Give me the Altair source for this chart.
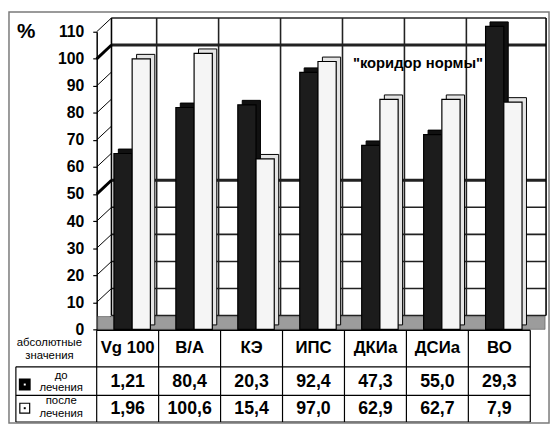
import altair as alt
import pandas as pd

# ---------------- data ----------------
categories = ["Vg 100", "В/А", "КЭ", "ИПС", "ДКИа", "ДСИа", "ВО"]
pct_before = [65, 82, 83, 95, 68, 72, 112]
pct_after = [100, 102, 63, 99, 85, 85, 84]
abs_before = ["1,21", "80,4", "20,3", "92,4", "47,3", "55,0", "29,3"]
abs_after = ["1,96", "100,6", "15,4", "97,0", "62,9", "62,7", "7,9"]
y_ticks = list(range(0, 111, 10))
wall_levels = [0, 10, 20, 30, 40, 50, 100, 110]   # lines drawn on the back wall
corridor = [50, 100]                               # "коридор нормы" bounds

# ---------------- layout / style constants ----------------
W, H = 440, 302
DX, DY = 15, -14          # depth of the back wall
D3 = 4.5                  # depth of each bar
BW = 18.5                 # bar width
OFF_BEFORE, OFF_AFTER = -4.7, 13.8
FONT = "Liberation Sans"

df = pd.DataFrame({
    "cat": categories,
    "before": pct_before,
    "after": pct_after,
    "abs_before": abs_before,
    "abs_after": abs_after,
})
one = pd.DataFrame({"k": [0]})
ticks_df = pd.DataFrame({"v": y_ticks})
wall_df = pd.DataFrame({"c": wall_levels})
corr_df = pd.DataFrame({"c": corridor})

xs = alt.Scale(domain=categories, paddingInner=0, paddingOuter=0)
ys = alt.Scale(domain=[0, 110], nice=False, zero=True)
is_corr = "datum.c == 50 || datum.c == 100"


def X(field="cat:N", **kw):
    return alt.X(field, sort=categories, scale=xs, axis=None, **kw)


def Yf(field):
    return alt.Y(field, scale=ys, axis=None)


def hline(y, x1, x2, width=1.2):
    return alt.Chart(one).mark_rule(color="black", strokeWidth=width).encode(
        y=alt.value(y), x=alt.value(x1), x2=alt.value(x2))


def vline(x, y1, y2, width=1.2):
    return alt.Chart(one).mark_rule(color="black", strokeWidth=width).encode(
        x=alt.value(x), y=alt.value(y1), y2=alt.value(y2))


def label(text, x, y, size=11.5):
    return alt.Chart(one).mark_text(text=text, font=FONT, fontSize=size, color="black",
                                    baseline="middle").encode(x=alt.value(x), y=alt.value(y))


# left wall diagonals + the y axis
diagonals = alt.Chart(ticks_df).mark_rule(color="black", strokeWidth=1, y2Offset=DY).encode(
    x=alt.value(0), x2=alt.value(DX),
    y=alt.Y("v:Q", scale=ys, axis=alt.Axis(
        values=y_ticks, tickSize=4, tickColor="black", tickWidth=1.2,
        domainColor="black", domainWidth=1.5, grid=False,
        labelFont=FONT, labelFontSize=16, labelFontWeight="bold", labelColor="black",
        labelPadding=9,
        title="%", titleAngle=0, titleX=-72, titleY=0, titleAlign="center",
        titleBaseline="middle", titleFont=FONT, titleFontSize=21,
        titleFontWeight="bold", titleColor="black")),
    y2="v:Q")

# back wall horizontal lines (thin grid + thick corridor bounds + top edge)
wall_back = alt.Chart(wall_df).mark_rule(color="#222222", yOffset=DY).encode(
    y=Yf("c:Q"), x=alt.value(DX), x2=alt.value(W + 16),
    strokeWidth=alt.condition(is_corr, alt.value(3), alt.value(1.6)))

# back wall vertical separators between the category groups
wall_verticals = alt.Chart(df).transform_filter(
    alt.datum.cat != categories[0]
).mark_rule(color="#222222", strokeWidth=1.6, xOffset=-2).encode(
    x=X(bandPosition=0), y=alt.value(DY), y2=alt.value(H + DY))

wall_left = vline(DX, DY, H + DY, 1.6)
wall_right = vline(W + 16, DY, H + DY, 1.6)

corr_diag = alt.Chart(corr_df).mark_rule(color="black", strokeWidth=3, y2Offset=DY).encode(
    x=alt.value(0), x2=alt.value(DX), y=Yf("c:Q"), y2="c:Q")

note = alt.Chart(one).mark_text(text='"коридор нормы"', font=FONT, fontSize=15,
                                fontWeight="bold", color="black").encode(
    x=alt.value(326), y=alt.value(32))

# floor
floor = alt.Chart(one).mark_rect(fill="#9c9c9c", stroke="#555", strokeWidth=0.6).encode(
    x=alt.value(1), x2=alt.value(W + 15), y=alt.value(H), y2=alt.value(H + DY + 1))

# bars (front face + depth)
before_depth = alt.Chart(df).mark_bar(width=BW, xOffset=OFF_BEFORE + D3, yOffset=-D3, y2Offset=-D3,
                                      fill="#111", stroke="black", strokeWidth=1).encode(
    x=X(), y=Yf("before:Q"))
before_front = alt.Chart(df).mark_bar(width=BW, xOffset=OFF_BEFORE,
                                      fill="#1c1c1c", stroke="black", strokeWidth=1.2).encode(
    x=X(), y=Yf("before:Q"))
after_depth = alt.Chart(df).mark_bar(width=BW, xOffset=OFF_AFTER + D3, yOffset=-D3, y2Offset=-D3,
                                     fill="#e4e4e4", stroke="black", strokeWidth=1).encode(
    x=X(), y=Yf("after:Q"))
after_front = alt.Chart(df).mark_bar(width=BW, xOffset=OFF_AFTER,
                                     fill="#f5f5f5", stroke="black", strokeWidth=1.2).encode(
    x=X(), y=Yf("after:Q"))

# table
T0, T1, T2, T3 = H + 1, 340, 369, 396
table_lines = [
    hline(T0, 0, W, 1.6),
    hline(T1, -82, W),
    hline(T2, -82, W),
    hline(T3, -82, W),
    vline(W, T0, T3),
    vline(-82, T1, T3),
]
col_lines = alt.Chart(df).mark_rule(color="black", strokeWidth=1.2).encode(
    x=X(bandPosition=0), y=alt.value(T0), y2=alt.value(T3))

txt = dict(font=FONT, color="black", baseline="middle")
head = alt.Chart(df).mark_text(fontSize=17, fontWeight="bold", **txt).encode(
    x=X(), y=alt.value(321), text="cat:N")
row1 = alt.Chart(df).mark_text(fontSize=18, fontWeight="bold", **txt).encode(
    x=X(), y=alt.value(356), text="abs_before:N")
row2 = alt.Chart(df).mark_text(fontSize=18, fontWeight="bold", **txt).encode(
    x=X(), y=alt.value(383), text="abs_after:N")

row_labels = [
    label("абсолютные", -48, 316),
    label("значения", -48, 329),
    label("до", -36, 349.5),
    label("лечения", -36, 362),
    label("после", -36, 375),
    label("лечения", -36, 387.5),
]

sq1 = alt.Chart(one).mark_square(size=100, fill="black", stroke="black", opacity=1).encode(
    x=alt.value(-73), y=alt.value(358))
sq1d = alt.Chart(one).mark_square(size=4, fill="white", opacity=1).encode(
    x=alt.value(-73), y=alt.value(358))
sq2 = alt.Chart(one).mark_square(size=100, fill="white", stroke="black", strokeWidth=1.2,
                                 opacity=1).encode(x=alt.value(-73), y=alt.value(382))
sq2d = alt.Chart(one).mark_square(size=4, fill="black", opacity=1).encode(
    x=alt.value(-73), y=alt.value(382))

# outer frame (drawn last, transparent inside)
frame = alt.Chart(one).mark_rect(fill="transparent", stroke="#7a7a7a", strokeWidth=1.5).encode(
    x=alt.value(-89), x2=alt.value(W + 19), y=alt.value(-20), y2=alt.value(H + 95))

chart = alt.layer(
    diagonals, wall_back, wall_verticals, wall_left, wall_right, corr_diag, note, floor,
    before_depth, before_front, after_depth, after_front,
    *table_lines, col_lines, head, row1, row2, *row_labels,
    sq1, sq1d, sq2, sq2d, frame,
).resolve_axis(y="independent").properties(
    width=W, height=H, padding=0).configure_view(stroke=None)

chart.save("out.html", embed_options={"renderer": "svg", "actions": False})
